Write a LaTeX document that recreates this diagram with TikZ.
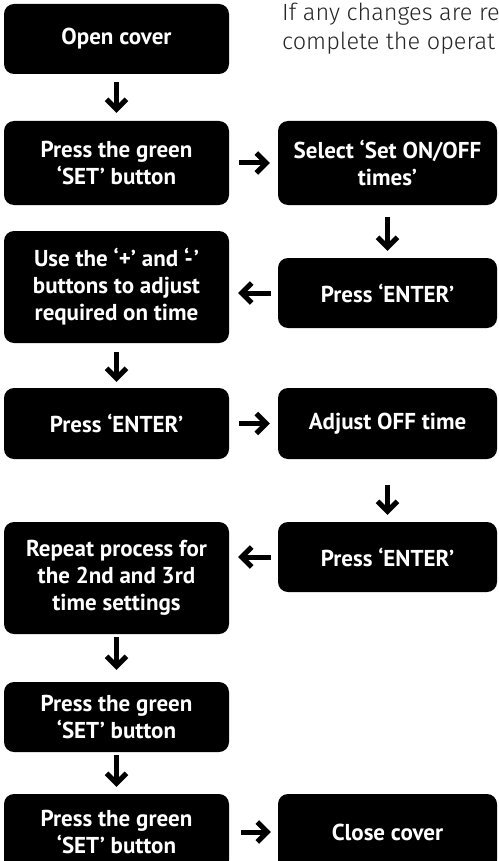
\documentclass[tikz,border=0pt]{standalone}
\usepackage{fontspec}
\newfontfamily\boxfont{PT Sans}
\newfontfamily\notefont{Fira Sans Light}
\usetikzlibrary{arrows.meta}

\begin{document}
\begin{tikzpicture}
        [x=1pt, y=-1pt,
        stepbox/.style={fill=black, rounded corners=10pt, text=white, align=center,
          inner sep=0pt, font=\boxfont\bfseries\fontsize{23}{27}\selectfont},
        lbox/.style={stepbox, minimum width=225pt},
        rbox/.style={stepbox, minimum width=219pt},
        arr/.style={-{Straight Barb[length=10pt,width=20pt]}, line width=5pt}]
        \useasboundingbox (0,0) rectangle (498,861);
        \clip (0,0) rectangle (498,861);
        \node (note) at (282,3) [anchor=north west, inner sep=0pt, align=left, text=black!85,
          font=\notefont\fontsize{23.5}{29}\selectfont] {If any changes are re\\complete the operat};
        \node (open) at (116.5,39) [lbox, minimum height=70pt] {Open cover};
        \node (green1) at (116.5,163) [lbox, minimum height=84pt] {Press the green\\‘SET’ button};
        \node (select) at (387.5,163) [rbox, minimum height=84pt] {Select ‘Set ON/OFF\\times’};
        \node (enter1) at (387.5,293) [rbox, minimum height=70pt] {Press ‘ENTER’};
        \node (plusminus) at (116.5,287) [lbox, minimum height=112pt] {Use the ‘+’ and ‘-\hspace{1pt}’\\buttons to adjust\\required on time};
        \node (enter2) at (116.5,423.5) [lbox, minimum height=71pt] {Press ‘ENTER’};
        \node (adjust) at (387.5,423.5) [rbox, minimum height=71pt] {Adjust OFF time};
        \node (enter3) at (387.5,557) [rbox, minimum height=70pt] {Press ‘ENTER’};
        \node (repeat) at (116.5,578) [lbox, minimum height=112pt] {Repeat process for\\the 2nd and 3rd\\time settings};
        \node (green2) at (116.5,717) [lbox, minimum height=70pt] {Press the green\\‘SET’ button};
        \node (green3) at (116.5,832) [lbox, minimum height=76pt] {Press the green\\‘SET’ button};
        \node (close) at (387.5,832) [rbox, minimum height=76pt] {Close cover};
        \path (open) edge[arr, shorten <=8pt, shorten >=8pt] (green1);
        \path (green1.east) edge[arr, shorten <=10pt, shorten >=8pt] (select.west);
        \path (select) edge[arr, shorten <=12pt, shorten >=7pt] (enter1);
        \path (enter1.west) edge[arr, shorten <=7pt, shorten >=9pt] (enter1.west -| plusminus.east);
        \path (plusminus) edge[arr, shorten <=9pt, shorten >=6pt] (enter2);
        \path (enter2) edge[arr, shorten <=10pt, shorten >=8pt] (adjust);
        \path (adjust) edge[arr, shorten <=26pt, shorten >=7pt] (enter3);
        \path (enter3.west) edge[arr, shorten <=7pt, shorten >=9pt] (enter3.west -| repeat.east);
        \path (repeat) edge[arr, shorten <=3pt, shorten >=12pt] (green2);
        \path (green2) edge[arr, shorten <=3pt, shorten >=7pt] (green3);
        \path (green3) edge[arr, shorten <=12pt, shorten >=7pt] (close);
     \end{tikzpicture}
\end{document}
